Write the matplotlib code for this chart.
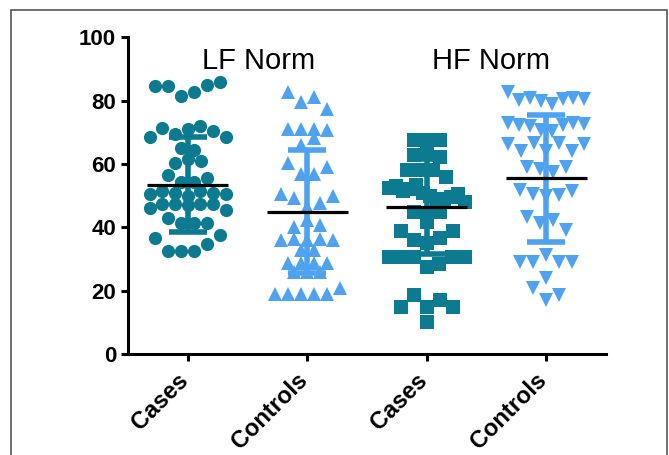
import numpy as np
import matplotlib
matplotlib.use('Agg')
from matplotlib import pyplot as plt
from matplotlib.patches import Rectangle
from matplotlib.transforms import ScaledTranslation

plt.rcParams['font.family'] = 'Liberation Sans'

# values (left to right inside each row)
group_labels = ['Cases', 'Controls', 'Cases', 'Controls']
panel_titles = ['LF Norm', 'HF Norm']

lf_cases = [84.7, 84.7, 81.5, 82.9, 85.0, 85.8,
            68.5, 71.5, 69.5, 71.0, 72.0, 70.5, 68.5,
            65.0, 64.5,
            60.5, 61.5, 61.0,
            56.5, 54.3, 54.3, 55.6,
            50.5, 51.5, 51.0, 50.0, 51.5, 51.0, 50.5,
            46.0, 47.5, 47.5, 47.0, 47.5, 47.5, 45.5,
            43.0, 41.5, 41.5, 41.5,
            36.6, 32.6, 32.6, 32.6, 34.6, 37.6]
lf_controls = [82.9, 79.7, 81.3, 77.5,
               71.0, 71.2, 71.0, 70.8,
               66.0, 68.1,
               60.2, 56.9, 56.9, 59.2,
               50.5, 49.2, 46.5, 47.8, 49.9,
               40.2, 42.3, 40.8,
               36.0, 36.2, 36.0, 36.4, 36.0,
               33.0, 33.0,
               28.7, 28.9, 28.7, 28.7,
               26.0, 26.0, 26.0,
               18.8, 18.8, 18.8, 18.8, 18.8, 20.7]
hf_cases = [67.6, 67.6, 67.6,
            62.9, 64.2, 62.1,
            58.1, 58.1, 58.1, 56.0,
            52.5, 53.0, 51.5, 52.0, 53.5, 51.0, 50.0, 49.0, 48.5, 49.5, 50.5, 48.0,
            45.0, 44.5, 45.0,
            41.8,
            38.8, 36.0, 35.0, 36.6, 38.8,
            30.7, 30.7, 30.7, 27.6, 28.4, 30.7, 30.7,
            14.9, 18.6, 14.9, 17.0, 14.9,
            10.2]
hf_controls = [82.9, 80.3, 80.8, 80.0, 79.0, 80.6, 81.0, 80.6,
               73.0, 72.5, 72.0, 70.8, 70.5, 72.4, 73.0, 72.7,
               66.2, 64.0, 66.7, 64.0, 66.7, 64.0, 66.2,
               59.0, 58.5, 57.5, 59.0,
               51.8, 50.5, 49.9, 50.2, 51.5,
               43.3, 41.5, 42.3, 39.2,
               29.0, 29.0, 31.3, 29.0, 29.0,
               24.0,
               20.9, 17.1, 18.6]
group_data = [lf_cases, lf_controls, hf_cases, hf_controls]

# mean and SD bars as drawn in the figure
means = [53.5, 45.0, 46.5, 55.5]
sds = [15.0, 19.5, 15.0, 20.0]

teal = '#0c7a90'
lblue = '#4ea2f0'
colors = [teal, lblue, teal, lblue]
markers = ['o', '^', 's', 'v']


def row_offsets(values, gap, span, step, half_w):
    # graphpad-like rows: close values sit side by side, centred on the group
    vals = np.asarray(values)
    order = sorted(range(len(vals)), key=lambda k: -vals[k])
    rows = []
    for k in order:
        if rows and vals[rows[-1][-1]] - vals[k] <= gap and vals[rows[-1][0]] - vals[k] <= span:
            rows[-1].append(k)
        else:
            rows.append([k])
    xs = np.zeros(len(vals))
    for r in rows:
        r = sorted(r)
        n = len(r)
        s = step if n < 2 else min(step, 2 * half_w / (n - 1))
        for j, k in enumerate(r):
            xs[k] = (j - (n - 1) / 2.0) * s
    return xs


fig = plt.figure(figsize=(6.69, 4.55), dpi=100)
ax = fig.add_axes([0.1913, 0.222, 0.7145, 0.6956])
ax.set_xlim(-0.5, 3.5)
ax.set_ylim(0, 100)

# pixels per x data unit
sx = 0.7145 * 669 / 4.0

for i, vals in enumerate(group_data):
    off = row_offsets(vals, 2.45, 6.5, 13.0, 38.0) / sx
    ax.plot(i + off, vals, linestyle='none', marker=markers[i], color=colors[i],
            markersize=9.5, markeredgewidth=0, zorder=2, clip_on=False)
    ax.errorbar(i, means[i], yerr=sds[i], color=colors[i], elinewidth=4,
                capsize=14, capthick=4, zorder=3)
    ax.plot([i - 0.34, i + 0.34], [means[i], means[i]], color='black', lw=2.3,
            zorder=4, solid_capstyle='butt')

ax.text(0.59, 90, panel_titles[0], fontsize=21, ha='center', va='baseline')
ax.text(2.54, 90, panel_titles[1], fontsize=21, ha='center', va='baseline')

for s in ['top', 'right']:
    ax.spines[s].set_visible(False)
for s in ['left', 'bottom']:
    ax.spines[s].set_linewidth(2.2)
ax.tick_params(direction='out', length=5, width=2.2)
ax.set_yticks(np.arange(0, 101, 20))
ax.set_xticks(np.arange(4))
ax.set_xticklabels(group_labels, rotation=45, ha='right', rotation_mode='anchor',
                   fontsize=17, fontweight='bold')
shift = ScaledTranslation(-8 / 72, -2 / 72, fig.dpi_scale_trans)
for lab in ax.get_xticklabels():
    lab.set_transform(lab.get_transform() + shift)
for lab in ax.get_yticklabels():
    lab.set_fontsize(16)
    lab.set_fontweight('bold')

fig.patches.append(Rectangle((11 / 669, -0.1), 656 / 669, 1.1 - 10 / 455,
                             transform=fig.transFigure, fill=False,
                             edgecolor='#555555', lw=1.2))

fig.savefig('out.png', dpi=100)
